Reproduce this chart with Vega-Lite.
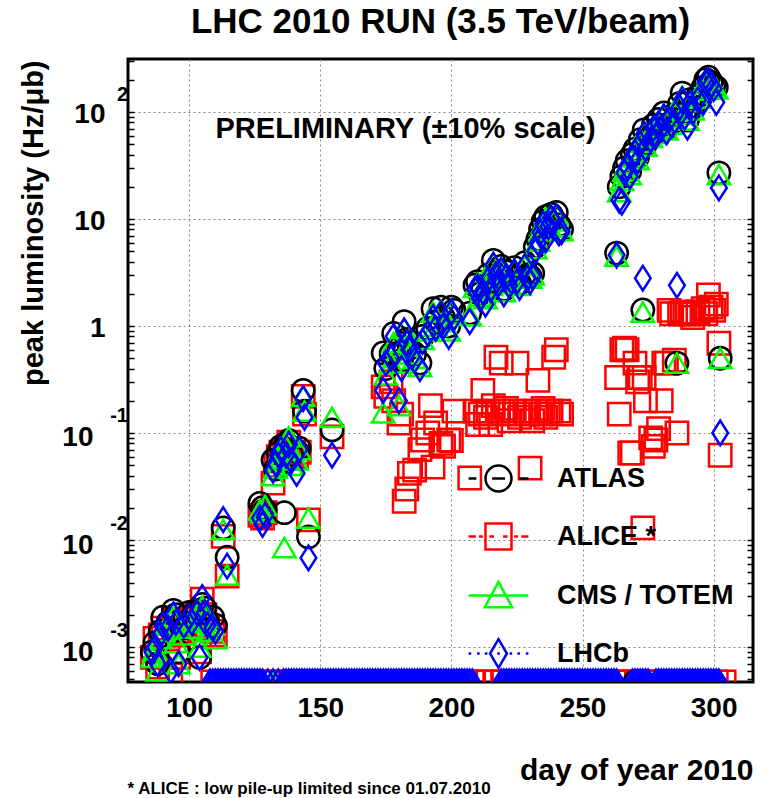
{
  "$schema": "https://vega.github.io/schema/vega-lite/v6.json",
  "width": 625,
  "height": 623,
  "autosize": {"type": "none"},
  "padding": {"left": 128, "top": 59, "right": 11, "bottom": 116},
  "background": "white",
  "config": {
    "view": {"stroke": "black", "strokeWidth": 3},
    "font": "Liberation Sans",
    "axis": {"labelColor": "black", "titleColor": "black", "labelFont": "Liberation Sans", "titleFont": "Liberation Sans"},
    "legend": {"labelColor": "black", "labelFont": "Liberation Sans"}
  },
  "title": {"text": "LHC 2010 RUN (3.5 TeV/beam)", "fontSize": 35, "font": "Liberation Sans", "fontWeight": "bold", "anchor": "middle", "frame": "group", "offset": 10, "color": "black"},
  "data": {"values": [
    {"d":86,"AT":0.0009,"AL":0.0008,"CM":0.0008,"LH":0.0009},
    {"d":87,"AT":0.0011,"AL":0.0012,"CM":0.00095,"LH":0.001},
    {"d":88,"AT":0.0007,"AL":0.00065,"CM":0.0006,"LH":0.0007},
    {"d":89,"AT":0.0014,"AL":0.0013,"CM":0.0012,"LH":0.0013},
    {"d":90,"AT":0.0019,"AL":0.0015,"CM":0.0014,"LH":0.0016},
    {"d":92,"AT":0.0017,"AL":0.0012,"CM":0.0016,"LH":0.0015},
    {"d":93,"AL":0.00055,"LH":0.0006},
    {"d":94,"AT":0.0022,"AL":0.0018,"CM":0.0019,"LH":0.002},
    {"d":95,"AT":0.002,"AL":0.0017,"CM":0.0011,"LH":0.0017},
    {"d":96,"AT":0.0009,"AL":0.0008,"CM":0.0007,"LH":0.0007},
    {"d":98,"AT":0.0015,"AL":0.0014,"CM":0.0013,"LH":0.0016},
    {"d":100,"AT":0.0021,"AL":0.0018,"CM":0.0017,"LH":0.0019},
    {"d":101,"AT":0.0019,"AL":0.0016,"CM":0.0015,"LH":0.0017},
    {"d":103,"AT":0.0022,"AL":0.002,"CM":0.0018,"LH":0.0021},
    {"d":104,"AT":0.0008,"AL":0.0009,"CM":0.001,"LH":0.0008},
    {"d":105,"AT":0.0025,"AL":0.0028,"CM":0.0024,"LH":0.0029},
    {"d":106,"AT":0.0023,"AL":0.002,"CM":0.0019,"LH":0.0021},
    {"d":107,"AT":0.0017,"AL":0.0015,"CM":0.0014,"LH":0.0016},
    {"d":109,"AT":0.0019,"AL":0.0014,"CM":0.0016,"LH":0.0015},
    {"d":110,"AT":0.0016,"AL":0.0013,"CM":0.0012,"LH":0.0014},
    {"d":113,"AT":0.013,"AL":0.0108,"CM":0.0125,"LH":0.0155},
    {"d":114.5,"AT":0.0069,"AL":0.0046,"CM":0.0047,"LH":0.0057},
    {"d":127,"AT":0.022,"AL":0.017,"CM":0.019,"LH":0.016},
    {"d":128,"AT":0.02,"AL":0.016,"CM":0.018,"LH":0.014},
    {"d":129,"AT":0.019,"AL":0.018,"CM":0.021,"LH":0.017},
    {"d":132,"AT":0.056,"AL":0.034,"CM":0.04,"LH":0.045},
    {"d":133,"AT":0.046,"AL":0.05,"CM":0.047,"LH":0.052},
    {"d":134,"AT":0.065,"AL":0.06,"CM":0.058,"LH":0.062},
    {"d":135,"AT":0.075,"AL":0.066,"CM":0.07,"LH":0.07},
    {"d":136.3,"AT":0.018,"CM":0.0085},
    {"d":137,"AT":0.08,"AL":0.07,"CM":0.075,"LH":0.062},
    {"d":138,"AT":0.085,"AL":0.082,"CM":0.092,"LH":0.078},
    {"d":139,"AT":0.063,"AL":0.058,"CM":0.05,"LH":0.055},
    {"d":141,"AT":0.068,"AL":0.06,"CM":0.056,"LH":0.042},
    {"d":142,"AT":0.072,"AL":0.066,"CM":0.07,"LH":0.07},
    {"d":143.5,"AT":0.25,"AL":0.22,"CM":0.22,"LH":0.21},
    {"d":144,"AT":0.16,"AL":0.15,"CM":0.16,"LH":0.14},
    {"d":145.5,"AT":0.0107,"AL":0.0154,"CM":0.016,"LH":0.0068},
    {"d":154.5,"AT":0.107,"AL":0.092,"CM":0.14,"LH":0.062},
    {"d":174,"AT":0.56,"AL":0.27,"CM":0.154,"LH":0.25},
    {"d":175,"AT":0.4,"AL":0.22,"CM":0.35,"LH":0.45},
    {"d":177,"AT":0.55,"AL":0.3,"CM":0.45,"LH":0.5},
    {"d":178,"AT":0.85,"AL":0.2,"CM":0.7,"LH":0.8},
    {"d":180,"AT":0.62,"AL":0.124,"CM":0.18,"LH":0.2},
    {"d":181,"AT":0.48,"AL":0.15,"CM":0.45,"LH":0.4},
    {"d":182,"AT":1.1,"AL":0.023,"CM":0.95,"LH":0.9},
    {"d":183,"AT":0.75,"AL":0.03,"CM":0.65,"LH":0.7},
    {"d":184,"AT":0.62,"AL":0.042,"CM":0.55,"LH":0.6},
    {"d":186,"AT":0.55,"AL":0.045,"CM":0.5,"LH":0.48},
    {"d":188,"AT":0.45,"AL":0.07,"CM":0.42,"LH":0.4},
    {"d":189,"AT":0.8,"AL":0.086,"CM":0.75,"LH":0.72},
    {"d":191,"AT":0.95,"AL":0.1,"CM":0.9,"LH":0.85},
    {"d":192,"AL":0.18},
    {"d":193,"AT":1.45,"AL":0.048,"CM":1.35,"LH":1.2},
    {"d":194,"AT":1.1,"AL":0.124,"CM":1.0,"LH":0.95},
    {"d":196,"AT":1.5,"AL":0.08,"CM":1.4,"LH":1.3},
    {"d":197,"AT":1.2,"AL":0.075,"CM":1.1,"LH":1.0},
    {"d":199,"AT":1.0,"AL":0.086,"CM":0.9,"LH":0.8},
    {"d":200,"AT":1.5,"AL":0.085,"CM":1.4,"LH":1.35},
    {"d":201,"AT":1.4,"AL":0.16,"CM":1.3,"LH":1.2},
    {"d":207,"AT":1.32,"AL":0.038,"CM":1.25,"LH":1.1},
    {"d":209,"AT":2.4,"AL":0.16,"CM":2.3,"LH":2.2},
    {"d":210,"AT":2.6,"AL":0.12,"CM":2.5,"LH":2.3},
    {"d":211,"AT":2.0,"AL":0.15,"CM":1.9,"LH":1.8},
    {"d":212,"AT":2.3,"AL":0.25,"CM":2.2,"LH":2.1},
    {"d":213,"AT":1.9,"AL":0.14,"CM":1.8,"LH":1.6},
    {"d":214,"AT":3.0,"AL":0.16,"CM":2.8,"LH":2.7},
    {"d":215,"AT":2.5,"AL":0.12,"CM":2.4,"LH":2.2},
    {"d":216,"AT":4.1,"AL":0.18,"CM":3.9,"LH":3.7},
    {"d":217,"AT":3.2,"AL":0.51,"CM":3.3,"LH":3.0},
    {"d":218,"AT":2.8,"AL":0.16,"CM":2.7,"LH":2.5},
    {"d":219,"AT":3.6,"AL":0.45,"CM":3.4,"LH":3.3},
    {"d":220,"AT":2.2,"AL":0.15,"CM":2.1,"LH":2.0},
    {"d":221,"AT":3.2,"AL":0.17,"CM":3.0,"LH":2.9},
    {"d":222,"AT":2.6,"AL":0.13,"CM":2.5,"LH":2.4},
    {"d":224,"AT":3.5,"AL":0.16,"CM":3.4,"LH":3.2},
    {"d":225,"AT":2.9,"AL":0.45,"CM":2.8,"LH":2.6},
    {"d":226,"AT":2.5,"AL":0.14,"CM":2.4,"LH":2.3},
    {"d":228,"AT":3.9,"AL":0.16,"CM":3.7,"LH":3.6},
    {"d":229,"AT":3.0,"AL":0.15,"CM":2.9,"LH":2.8},
    {"d":230,"AT":2.9,"AL":0.047,"CM":2.8,"LH":2.6},
    {"d":231,"AT":3.1,"AL":0.13,"CM":3.0,"LH":2.9},
    {"d":232,"AT":5.5,"AL":0.16,"CM":5.3,"LH":5.0},
    {"d":233,"AT":6.5,"AL":0.31,"CM":6.2,"LH":6.0},
    {"d":234,"AT":8.0,"AL":0.15,"CM":7.8,"LH":7.5},
    {"d":235,"AT":9.5,"AL":0.17,"CM":9.2,"LH":9.0},
    {"d":236,"AT":10.5,"AL":0.14,"CM":10.2,"LH":6.4},
    {"d":237,"AT":9.0,"AL":0.16,"CM":8.8,"LH":8.5},
    {"d":238,"AT":11.0,"AL":0.16,"CM":10.8,"LH":10.2},
    {"d":239,"AT":10.0,"AL":0.51,"CM":9.6,"LH":9.4},
    {"d":240,"AT":11.5,"AL":0.6,"CM":11.0,"LH":10.5},
    {"d":241,"AT":8.8,"AL":0.16,"CM":8.5,"LH":7.4},
    {"d":242,"AT":8.0,"AL":0.15,"CM":7.8,"LH":7.6},
    {"d":263,"AT":4.8,"AL":0.33,"CM":4.5,"LH":4.6},
    {"d":264,"AT":20,"AL":0.15,"CM":18,"LH":15},
    {"d":265,"AT":25,"AL":0.6,"CM":23,"LH":14.4},
    {"d":266,"AT":30,"AL":0.62,"CM":28,"LH":27},
    {"d":267,"AT":35,"AL":0.6,"CM":33,"LH":31},
    {"d":268,"AT":28,"AL":0.065,"CM":26,"LH":25},
    {"d":269,"AT":40,"AL":0.065,"CM":38,"LH":36},
    {"d":270,"AT":45,"AL":0.45,"CM":43,"LH":42},
    {"d":271,"AT":38,"AL":0.3,"CM":36,"LH":35},
    {"d":272,"AT":55,"AL":0.33,"CM":52,"LH":50},
    {"d":273,"AT":1.41,"AL":0.013,"CM":1.35,"LH":2.8},
    {"d":273.5,"AT":68,"AL":0.33,"CM":65,"LH":62},
    {"d":274,"AT":50,"AL":0.2,"CM":48,"LH":46},
    {"d":276,"AT":60,"AL":0.09,"CM":58,"LH":55},
    {"d":277,"AT":75,"AL":0.075,"CM":72,"LH":70},
    {"d":278,"AT":65,"AL":0.086,"CM":63,"LH":60},
    {"d":279,"AT":85,"AL":0.11,"CM":80,"LH":78},
    {"d":280,"AT":75,"AL":0.2,"CM":72,"LH":70},
    {"d":281,"AT":98,"AL":0.45,"CM":95,"LH":90},
    {"d":282,"AT":70,"AL":0.45,"CM":68,"LH":65},
    {"d":283,"AT":90,"AL":1.4,"CM":88,"LH":85},
    {"d":284,"AT":80,"AL":1.3,"CM":77,"LH":75},
    {"d":285,"AL":0.48},
    {"d":286,"AT":0.45,"AL":0.1,"CM":0.45,"LH":2.4},
    {"d":287,"AT":120,"AL":1.3,"CM":115,"LH":110},
    {"d":288,"AT":150,"AL":1.35,"CM":140,"LH":130},
    {"d":289,"AT":100,"AL":1.3,"CM":95,"LH":90},
    {"d":290,"AT":84,"AL":1.3,"CM":84,"LH":72},
    {"d":291,"AT":130,"AL":1.3,"CM":125,"LH":120},
    {"d":292,"AT":110,"AL":1.2,"CM":105,"LH":100},
    {"d":294,"AT":140,"AL":1.35,"CM":135,"LH":130},
    {"d":296,"AT":170,"AL":1.45,"CM":160,"LH":123},
    {"d":297,"AT":200,"AL":1.3,"CM":195,"LH":190},
    {"d":298,"AT":211,"AL":1.95,"CM":205,"LH":195},
    {"d":299,"AT":190,"AL":1.5,"CM":185,"LH":180},
    {"d":300,"AT":175,"AL":1.4,"CM":170,"LH":165},
    {"d":301,"AT":170,"AL":1.6,"CM":165,"LH":123},
    {"d":302,"AT":27,"AL":0.69,"CM":26,"LH":19.5},
    {"d":302.5,"AT":0.5,"AL":0.062,"CM":0.5,"LH":0.1},
    {"d":193,"AT":0.0001},{"d":270,"AT":0.0001},{"d":286,"AT":0.0001},
    {"d":112,"CM":0.0001},{"d":118,"CM":0.0001},{"d":132,"CM":0.0001},{"d":137,"CM":0.0001},{"d":180,"CM":0.0001},{"d":184,"CM":0.0001},{"d":190,"CM":0.0001},{"d":195,"CM":0.0001},{"d":222,"CM":0.0001},{"d":228,"CM":0.0001},{"d":232,"CM":0.0001},{"d":270,"CM":0.0001},{"d":274,"CM":0.0001},{"d":285,"CM":0.0001},{"d":292,"CM":0.0001},{"d":300,"CM":0.0001},
    {"d":108,"LH":0.0001},{"d":109,"LH":0.0001,"AL":0.0001},{"d":110,"LH":0.0001},{"d":111,"LH":0.0001},{"d":112,"LH":0.0001,"AL":0.0001},{"d":113,"LH":0.0001},{"d":114,"LH":0.0001},{"d":115,"LH":0.0001,"AL":0.0001},{"d":116,"LH":0.0001},{"d":117,"LH":0.0001},{"d":118,"LH":0.0001,"AL":0.0001},{"d":119,"LH":0.0001},{"d":120,"LH":0.0001},{"d":121,"LH":0.0001,"AL":0.0001},{"d":122,"LH":0.0001},{"d":123,"LH":0.0001},{"d":124,"LH":0.0001,"AL":0.0001},{"d":125,"LH":0.0001},{"d":126,"LH":0.0001},{"d":127,"LH":0.0001,"AL":0.0001},{"d":128,"LH":0.0001},{"d":130,"LH":0.0001,"AL":0.0001},{"d":132,"LH":0.0001},{"d":133,"AL":0.0001},{"d":134,"LH":0.0001},{"d":136,"LH":0.0001,"AL":0.0001},{"d":137,"LH":0.0001},{"d":138,"LH":0.0001},{"d":139,"LH":0.0001,"AL":0.0001},
    {"d":140,"LH":0.0001},{"d":141,"LH":0.0001},{"d":142,"LH":0.0001,"AL":0.0001},{"d":143,"LH":0.0001},{"d":144,"LH":0.0001},{"d":145,"LH":0.0001,"AL":0.0001},{"d":146,"LH":0.0001},{"d":147,"LH":0.0001},{"d":148,"LH":0.0001,"AL":0.0001},{"d":149,"LH":0.0001},{"d":150,"LH":0.0001},{"d":151,"LH":0.0001,"AL":0.0001},{"d":152,"LH":0.0001},{"d":153,"LH":0.0001},{"d":154,"LH":0.0001,"AL":0.0001},{"d":155,"LH":0.0001},{"d":156,"LH":0.0001},{"d":157,"LH":0.0001,"AL":0.0001},{"d":158,"LH":0.0001},{"d":159,"LH":0.0001},{"d":160,"LH":0.0001,"AL":0.0001},{"d":161,"LH":0.0001},{"d":162,"LH":0.0001},{"d":163,"LH":0.0001,"AL":0.0001},{"d":164,"LH":0.0001},{"d":165,"LH":0.0001},{"d":166,"LH":0.0001,"AL":0.0001},{"d":167,"LH":0.0001},{"d":168,"LH":0.0001},{"d":169,"LH":0.0001,"AL":0.0001},
    {"d":170,"LH":0.0001},{"d":171,"LH":0.0001},{"d":172,"LH":0.0001,"AL":0.0001},{"d":173,"LH":0.0001},{"d":174,"LH":0.0001},{"d":175,"LH":0.0001,"AL":0.0001},{"d":176,"LH":0.0001},{"d":177,"LH":0.0001},{"d":178,"LH":0.0001,"AL":0.0001},{"d":179,"LH":0.0001},{"d":180,"LH":0.0001},{"d":181,"LH":0.0001,"AL":0.0001},{"d":182,"LH":0.0001},{"d":183,"LH":0.0001},{"d":184,"LH":0.0001,"AL":0.0001},{"d":185,"LH":0.0001},{"d":186,"LH":0.0001},{"d":187,"LH":0.0001,"AL":0.0001},{"d":188,"LH":0.0001},{"d":189,"LH":0.0001},{"d":190,"LH":0.0001,"AL":0.0001},{"d":191,"LH":0.0001},{"d":192,"LH":0.0001},{"d":193,"LH":0.0001,"AL":0.0001},{"d":194,"LH":0.0001},{"d":195,"LH":0.0001},{"d":196,"LH":0.0001,"AL":0.0001},{"d":197,"LH":0.0001},{"d":198,"LH":0.0001},{"d":199,"LH":0.0001,"AL":0.0001},
    {"d":200,"LH":0.0001},{"d":201,"LH":0.0001},{"d":202,"LH":0.0001,"AL":0.0001},{"d":203,"LH":0.0001},{"d":204,"LH":0.0001},{"d":205,"LH":0.0001,"AL":0.0001},{"d":206,"LH":0.0001},{"d":207,"LH":0.0001},{"d":208,"LH":0.0001,"AL":0.0001},{"d":211,"AL":0.0001},{"d":214,"AL":0.0001},{"d":217,"AL":0.0001},
    {"d":219,"LH":0.0001},{"d":220,"LH":0.0001,"AL":0.0001},{"d":221,"LH":0.0001},{"d":222,"LH":0.0001},{"d":223,"LH":0.0001,"AL":0.0001},{"d":224,"LH":0.0001},{"d":225,"LH":0.0001},{"d":226,"LH":0.0001,"AL":0.0001},{"d":227,"LH":0.0001},{"d":228,"LH":0.0001},{"d":229,"LH":0.0001,"AL":0.0001},{"d":230,"LH":0.0001},{"d":231,"LH":0.0001},{"d":232,"LH":0.0001,"AL":0.0001},{"d":233,"LH":0.0001},{"d":234,"LH":0.0001},{"d":235,"LH":0.0001,"AL":0.0001},{"d":236,"LH":0.0001},{"d":237,"LH":0.0001},{"d":238,"LH":0.0001,"AL":0.0001},{"d":239,"LH":0.0001},{"d":240,"LH":0.0001},{"d":241,"LH":0.0001,"AL":0.0001},{"d":242,"LH":0.0001},{"d":243,"LH":0.0001},{"d":244,"LH":0.0001,"AL":0.0001},{"d":245,"LH":0.0001},{"d":246,"LH":0.0001},{"d":247,"LH":0.0001,"AL":0.0001},{"d":248,"LH":0.0001},{"d":249,"LH":0.0001},
    {"d":250,"LH":0.0001,"AL":0.0001},{"d":251,"LH":0.0001},{"d":252,"LH":0.0001},{"d":253,"LH":0.0001,"AL":0.0001},{"d":254,"LH":0.0001},{"d":255,"LH":0.0001},{"d":256,"LH":0.0001,"AL":0.0001},{"d":257,"LH":0.0001},{"d":258,"LH":0.0001},{"d":259,"LH":0.0001,"AL":0.0001},{"d":260,"LH":0.0001},{"d":261,"LH":0.0001},{"d":262,"LH":0.0001,"AL":0.0001},{"d":263,"LH":0.0001},{"d":265,"AL":0.0001},{"d":268,"AL":0.0001},
    {"d":269,"LH":0.0001},{"d":270,"LH":0.0001},{"d":271,"LH":0.0001,"AL":0.0001},{"d":272,"LH":0.0001},{"d":273,"LH":0.0001},{"d":274,"LH":0.0001,"AL":0.0001},{"d":275,"LH":0.0001},{"d":277,"AL":0.0001},
    {"d":278,"LH":0.0001},{"d":279,"LH":0.0001},{"d":280,"LH":0.0001,"AL":0.0001},{"d":281,"LH":0.0001},{"d":282,"LH":0.0001},{"d":283,"LH":0.0001,"AL":0.0001},{"d":284,"LH":0.0001},{"d":285,"LH":0.0001},{"d":286,"LH":0.0001,"AL":0.0001},{"d":287,"LH":0.0001},{"d":288,"LH":0.0001},{"d":289,"LH":0.0001,"AL":0.0001},{"d":290,"LH":0.0001},{"d":291,"LH":0.0001},{"d":292,"LH":0.0001,"AL":0.0001},{"d":293,"LH":0.0001},{"d":294,"LH":0.0001},{"d":295,"LH":0.0001,"AL":0.0001},{"d":296,"LH":0.0001},{"d":297,"LH":0.0001},{"d":298,"LH":0.0001,"AL":0.0001},{"d":299,"LH":0.0001},{"d":300,"LH":0.0001},{"d":301,"LH":0.0001,"AL":0.0001},{"d":302,"LH":0.0001},{"d":304,"AL":0.0001}
  ]},
  "layer": [
    {
      "mark": {"type": "point", "shape": "square", "filled": false, "strokeWidth": 2.5, "size": 500, "clip": true, "opacity": 1},
      "encoding": {
        "x": {"field": "d", "type": "quantitative",
          "scale": {"domain": [76.7, 315], "nice": false, "zero": false},
          "axis": {"orient": "bottom", "values": [100, 150, 200, 250, 300], "title": "day of year 2010",
            "titleFontSize": 30, "titleFontWeight": "bold", "titleAnchor": "end", "titleAlign": "right", "titleBaseline": "alphabetic", "titleX": 625, "titleY": 97,
            "labelFontSize": 28, "labelFontWeight": "bold", "labelPadding": 12, "labelFlush": false, "labelOverlap": false,
            "ticks": false, "domain": false, "grid": true, "gridColor": "#888888", "gridDash": [2, 3], "gridWidth": 1}},
        "y": {"field": "AL", "type": "quantitative",
          "scale": {"type": "log", "domain": [0.000471, 312.6], "nice": false, "clamp": true},
          "axis": {"orient": "left", "values": [0.0005,0.0006,0.0007,0.0008,0.0009,0.001,0.002,0.003,0.004,0.005,0.006,0.007,0.008,0.009,0.01,0.02,0.03,0.04,0.05,0.06,0.07,0.08,0.09,0.1,0.2,0.3,0.4,0.5,0.6,0.7,0.8,0.9,1,2,3,4,5,6,7,8,9,10,20,30,40,50,60,70,80,90,100,200,300],
            "labelExpr": "datum.value == 100 ? '10' : datum.value == 10 ? '10' : datum.value == 1 ? '1' : ''",
            "labelFontSize": 28, "labelFontWeight": "bold", "labelAlign": "right", "labelBaseline": "alphabetic", "labelOffset": 11, "labelPadding": 29,
            "labelOverlap": false, "labelBound": false, "labelFlush": false,
            "title": "peak luminosity (Hz/μb)", "titleFontSize": 29, "titleFontWeight": "bold", "titleAnchor": "end", "titleAlign": "right", "titleAngle": 270, "titleBaseline": "alphabetic", "titleX": -86, "titleY": 1,
            "ticks": true, "tickSize": -6, "tickColor": "black", "tickWidth": 1.5, "domain": false,
            "grid": true, "gridColor": "#888888", "gridDash": [2, 3], "gridWidth": 1,
            "gridOpacity": {"condition": {"test": "datum.value == 0.001 || datum.value == 0.01 || datum.value == 0.1 || datum.value == 1 || datum.value == 10 || datum.value == 100", "value": 1}, "value": 0}}},
        "color": {"datum": "ALICE", "type": "nominal",
          "scale": {"domain": ["ATLAS", "ALICE", "CMS / TOTEM", "LHCb"], "range": ["#000000", "#ff0000", "#00ff00", "#0000ff"]},
          "legend": {"orient": "none", "legendX": 356, "legendY": 405, "title": null,
            "labelFontSize": 27, "labelFontWeight": "bold", "labelOffset": 44, "labelLimit": 400, "labelExpr": "datum.label == 'ALICE' ? 'ALICE *' : datum.label",
            "symbolSize": 676, "symbolStrokeWidth": 2.5, "symbolFillColor": "transparent", "symbolOpacity": 1, "rowPadding": 21}}
      }
    },
    {
      "mark": {"type": "point", "shape": "circle", "filled": false, "strokeWidth": 2.5, "size": 500, "clip": true, "opacity": 1},
      "encoding": {
        "x": {"field": "d", "type": "quantitative",
          "axis": {"orient": "top", "title": "PRELIMINARY (±10% scale)", "titleFontSize": 29, "titleFontWeight": "bold",
            "titleAnchor": "start", "titleAlign": "left", "titleBaseline": "alphabetic", "titleX": 87, "titleY": 78,
            "labels": false, "ticks": false, "domain": false, "grid": false}},
        "y": {"field": "AT", "type": "quantitative",
          "axis": {"orient": "left", "values": [0.1, 0.01, 0.001], "labelExpr": "'10'", "title": null,
            "labelFontSize": 28, "labelFontWeight": "bold", "labelAlign": "right", "labelBaseline": "alphabetic", "labelOffset": 13, "labelPadding": 35,
            "labelOverlap": false, "labelBound": false, "labelFlush": false, "ticks": false, "domain": false, "grid": false}},
        "color": {"datum": "ATLAS", "type": "nominal"}
      }
    },
    {
      "mark": {"type": "point", "shape": "triangle-up", "filled": false, "strokeWidth": 2.5, "size": 500, "clip": true, "opacity": 1},
      "encoding": {
        "x": {"field": "d", "type": "quantitative", "axis": null},
        "y": {"field": "CM", "type": "quantitative",
          "axis": {"orient": "left", "values": [100, 0.1, 0.01, 0.001], "labelExpr": "datum.value == 100 ? '2' : datum.value == 0.1 ? '-1' : datum.value == 0.01 ? '-2' : '-3'", "title": null,
            "labelFontSize": 20, "labelFontWeight": "bold", "labelAlign": "right", "labelBaseline": "middle", "labelOffset": -17, "labelPadding": 0.5,
            "labelOverlap": false, "labelBound": false, "labelFlush": false, "ticks": false, "domain": false, "grid": false}},
        "color": {"datum": "CMS / TOTEM", "type": "nominal"}
      }
    },
    {
      "mark": {"type": "point", "shape": "M0,-1.1L0.7,0L0,1.1L-0.7,0Z", "filled": false, "strokeWidth": 2.5, "size": 500, "clip": true, "opacity": 1},
      "encoding": {
        "x": {"field": "d", "type": "quantitative",
          "axis": {"orient": "bottom", "title": "* ALICE : low pile-up limited since 01.07.2010", "titleFontSize": 17, "titleFontWeight": "bold",
            "titleAnchor": "start", "titleAlign": "left", "titleBaseline": "alphabetic", "titleX": -1, "titleY": 111,
            "labels": false, "ticks": false, "domain": false, "grid": false}},
        "y": {"field": "LH", "type": "quantitative",
          "axis": {"orient": "right", "values": [0.0005,0.0006,0.0007,0.0008,0.0009,0.001,0.002,0.003,0.004,0.005,0.006,0.007,0.008,0.009,0.01,0.02,0.03,0.04,0.05,0.06,0.07,0.08,0.09,0.1,0.2,0.3,0.4,0.5,0.6,0.7,0.8,0.9,1,2,3,4,5,6,7,8,9,10,20,30,40,50,60,70,80,90,100,200,300],
            "title": null, "labels": false, "ticks": true, "tickSize": -6, "tickColor": "black", "tickWidth": 1.5, "domain": false, "grid": false}},
        "color": {"datum": "LHCb", "type": "nominal"}
      }
    },
    {
      "transform": [{"filter": "false"}],
      "mark": {"type": "point", "filled": false, "strokeWidth": 2.5, "size": 500, "opacity": 1},
      "encoding": {
        "x": {"field": "d", "type": "quantitative", "axis": null},
        "y": {"field": "AT", "type": "quantitative", "axis": null},
        "color": {"datum": "ATLAS", "type": "nominal"},
        "shape": {"datum": "ATLAS", "type": "nominal",
          "scale": {"domain": ["ATLAS", "ALICE", "CMS / TOTEM", "LHCb"],
            "range": ["M-2.3,0L-1.7,0M-0.5,0L0.5,0M1.6,0L2.3,0M1,0A1,1,0,1,1,-1,0A1,1,0,1,1,1,0",
                      "M-2.3,0L-1.75,0M-1.5,0L-1.2,0M-0.7,0L-0.35,0M0.35,0L0.7,0M1.2,0L1.5,0M1.75,0L2.3,0M-1,-1L1,-1L1,1L-1,1Z",
                      "M-2.3,0L2.3,0M0,-1.05L1.05,0.9L-1.05,0.9Z",
                      "M-2.3,0L-2.1,0M-1.65,0L-1.45,0M-1.05,0L-0.85,0M-0.1,0L0.1,0M0.85,0L1.05,0M1.45,0L1.65,0M2.1,0L2.3,0M0,-1.1L0.65,0L0,1.1L-0.65,0Z"]},
          "legend": {"orient": "none", "legendX": 356, "legendY": 405, "title": null,
            "labelFontSize": 27, "labelFontWeight": "bold", "labelOffset": 44, "labelLimit": 400, "labelExpr": "datum.label == 'ALICE' ? 'ALICE *' : datum.label",
            "symbolSize": 676, "symbolStrokeWidth": 2.5, "symbolFillColor": "transparent", "symbolOpacity": 1, "rowPadding": 21}}
      }
    }
  ],
  "resolve": {"axis": {"x": "independent", "y": "independent"}}
}
